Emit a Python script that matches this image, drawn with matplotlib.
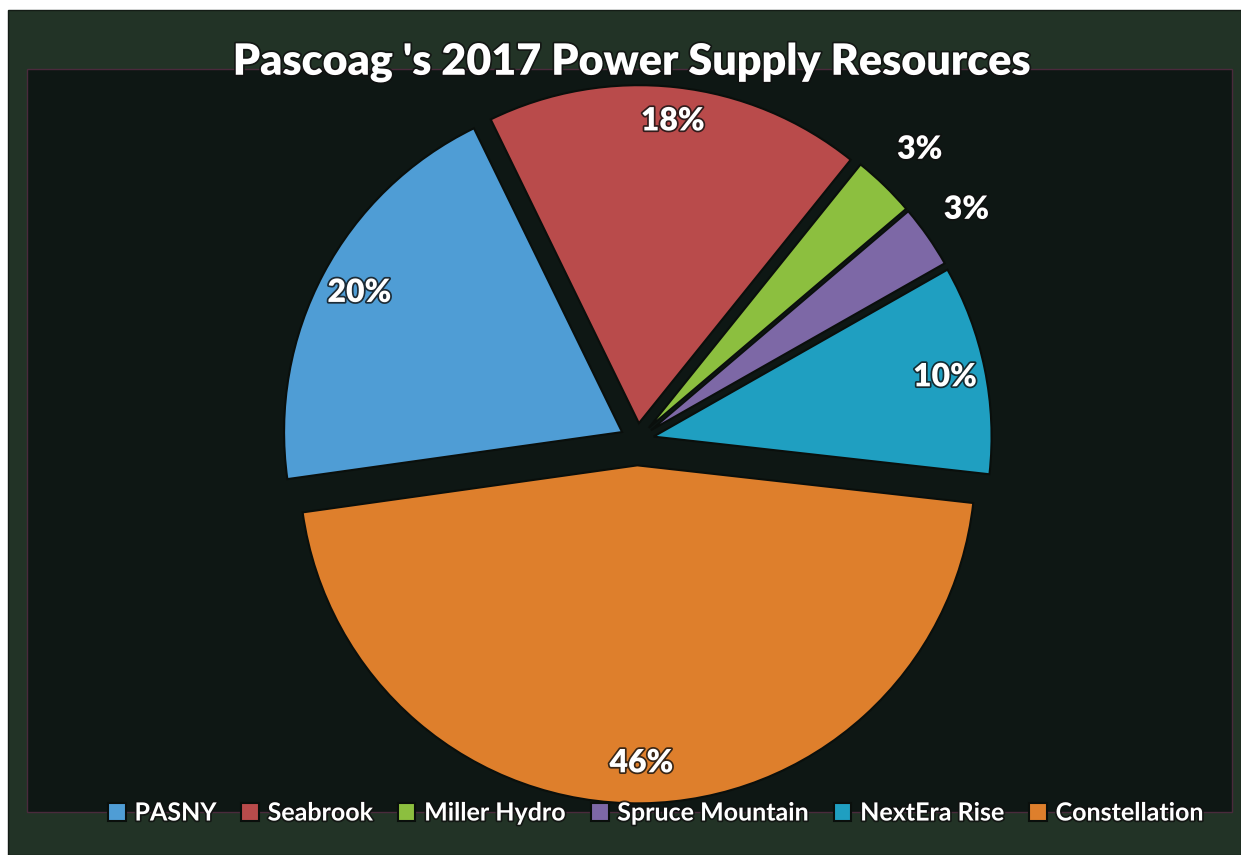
import matplotlib.pyplot as plt
import matplotlib.patheffects as pe
from matplotlib.patches import Rectangle
import numpy as np

# data
sources = ['PASNY', 'Seabrook', 'Miller Hydro', 'Spruce Mountain', 'NextEra Rise', 'Constellation']
shares = [20, 18, 3, 3, 10, 46]
colors = ['#4f9dd5', '#b94b4b', '#8cbf3f', '#7d68a6', '#1f9fc1', '#de7f2c']
explode = [0.05, 0.05, 0.05, 0.05, 0.05, 0.075]
label_dist = [0.88, 0.9, 1.15, 1.14, 0.88, 0.88]

plt.rcParams['font.family'] = ['Lato', 'DejaVu Sans']
plt.rcParams['font.weight'] = 'bold'

W, H = 1241, 855
fig = plt.figure(figsize=(W / 100, H / 100), dpi=100)
fig.patch.set_facecolor('white')

# outer frame and inner plot area
fig.patches.append(Rectangle((8 / W, 0), 1 - 8 / W, 1 - 10 / H, transform=fig.transFigure,
                             facecolor='#223326', edgecolor='#141c16', lw=1, zorder=-10))
fig.patches.append(Rectangle((27 / W, 1 - 812 / H), (1232 - 27) / W, (812 - 69) / H,
                             transform=fig.transFigure, facecolor='#0e1714',
                             edgecolor='#4a2a3c', lw=1, zorder=-9))

# pie axes: center ~ (637, 440) px, radius ~ 338 px
cx, cy, r = 637, 440, 338
L = 1.25
S = 2 * L * r
ax = fig.add_axes([cx / W - S / 2 / W, (H - cy) / H - S / 2 / H, S / W, S / H])
ax.set_xlim(-L, L)
ax.set_ylim(-L, L)
ax.set_aspect('equal')
ax.axis('off')

wedges, _ = ax.pie(shares, colors=colors, explode=explode, startangle=188,
                   counterclock=False, radius=1,
                   wedgeprops=dict(edgecolor='#0a0f0c', linewidth=1.5))

# dark halo behind the white text
shadow = [pe.Stroke(linewidth=2.5, foreground='#101010', alpha=0.8), pe.Normal()]

for w, share, d, ex in zip(wedges, shares, label_dist, explode):
    mid = np.deg2rad((w.theta1 + w.theta2) / 2)
    x = (d + ex) * np.cos(mid)
    y = (d + ex) * np.sin(mid)
    ax.text(x, y, f'{share}%', ha='center', va='center', color='white',
            fontsize=23, fontweight='heavy', path_effects=shadow)

fig.text(631 / W, 1 - 62 / H, "Pascoag 's 2017 Power Supply Resources", ha='center', va='center',
         color='white', fontsize=31, fontweight='heavy', path_effects=shadow)

leg = fig.legend(wedges, sources, loc='center', bbox_to_anchor=(656 / W, 1 - 813 / H), ncol=6,
                 frameon=False, handlelength=0.7, handleheight=0.7, handletextpad=0.35,
                 columnspacing=1.0, prop={'size': 18, 'weight': 'bold'})
for t in leg.get_texts():
    t.set_color('white')
    t.set_path_effects(shadow)

fig.savefig('out.png', dpi=100)
